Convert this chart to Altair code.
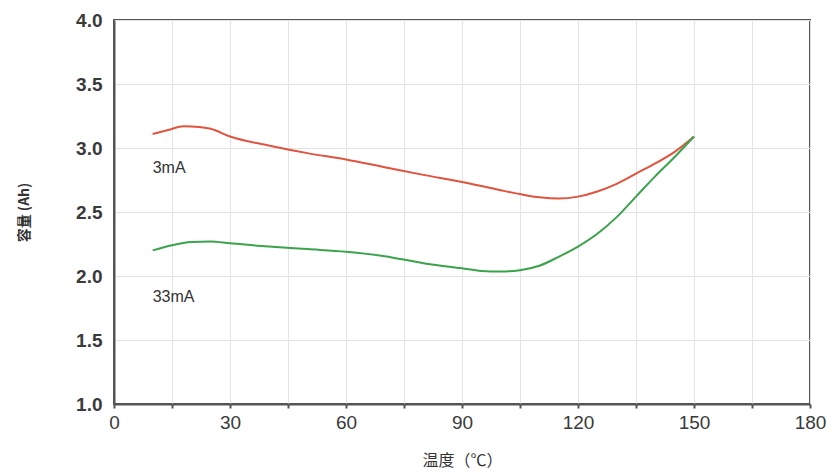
import altair as alt
import pandas as pd

# 3mA series
x_3ma = [10, 14, 18, 22, 25, 30, 40, 50, 60, 70, 80, 90, 100, 105, 110, 115, 120, 125, 130, 135, 140, 145, 150]
y_3ma = [3.11, 3.14, 3.17, 3.165, 3.15, 3.09, 3.02, 2.96, 2.91, 2.85, 2.79, 2.735, 2.67, 2.64, 2.615, 2.605, 2.62, 2.66, 2.72, 2.80, 2.88, 2.97, 3.09]
# 33mA series
x_33ma = [10, 15, 20, 25, 30, 40, 50, 60, 70, 80, 90, 95, 100, 105, 110, 115, 120, 125, 130, 135, 140, 145, 150]
y_33ma = [2.20, 2.24, 2.265, 2.27, 2.255, 2.23, 2.21, 2.19, 2.155, 2.10, 2.06, 2.04, 2.035, 2.045, 2.08, 2.15, 2.23, 2.33, 2.46, 2.62, 2.78, 2.93, 3.09]

series_names = ["3mA", "33mA"]
series_colors = ["#e0533f", "#3aa34b"]

label_text = ["3mA", "33mA"]
label_x = [10, 10]
label_y = [2.84, 1.835]

x_ticks = list(range(0, 181, 15))
y_ticks = [1.0 + 0.25 * i for i in range(13)]

df = pd.concat([
    pd.DataFrame({"t": x_3ma, "c": y_3ma, "s": series_names[0]}),
    pd.DataFrame({"t": x_33ma, "c": y_33ma, "s": series_names[1]}),
])
labels = pd.DataFrame({"t": label_x, "c": label_y, "txt": label_text})

xscale = alt.Scale(domain=[0, 180], nice=False)
yscale = alt.Scale(domain=[1.0, 4.0], nice=False)

xaxis = alt.Axis(
    values=x_ticks,
    labelExpr="datum.value % 30 == 0 ? datum.label : ''",
    title="温度（℃）",
    titleFont="Noto Sans CJK SC",
    titleFontSize=16,
    titleFontWeight="normal",
    titleColor="#333333",
    titlePadding=20,
    labelFont="Liberation Sans",
    labelFontSize=19,
    labelColor="#3a3a3a",
    labelPadding=5,
    labelFlush=False,
    tickSize=4,
    tickColor="#555555",
    tickWidth=2,
    domainColor="#555555",
    domainWidth=2,
    grid=True,
    gridColor="#e4e4e4",
    gridWidth=1,
)
yaxis = alt.Axis(
    values=y_ticks,
    labelExpr="(datum.value * 2) % 1 == 0 ? format(datum.value, '.1f') : ''",
    title="容量 (Ah)",
    titleFont="Noto Sans CJK SC",
    titleFontSize=14,
    titleFontWeight="bold",
    titleColor="#333333",
    titlePadding=44,
    labelFont="Liberation Sans",
    labelFontSize=19,
    labelFontWeight="bold",
    labelColor="#3a3a3a",
    labelPadding=12,
    labelFlush=False,
    tickSize=0,
    domainColor="#555555",
    domainWidth=2,
    grid=True,
    gridColor="#e4e4e4",
    gridWidth=1,
)

lines = alt.Chart(df).mark_line(strokeWidth=2, interpolate="monotone").encode(
    x=alt.X("t:Q", scale=xscale, axis=xaxis),
    y=alt.Y("c:Q", scale=yscale, axis=yaxis),
    color=alt.Color("s:N", scale=alt.Scale(domain=series_names, range=series_colors), legend=None),
)

texts = alt.Chart(labels).mark_text(
    align="left", baseline="middle", font="Liberation Sans", fontSize=16, color="#333333"
).encode(x="t:Q", y="c:Q", text="txt:N")

chart = alt.layer(lines, texts).properties(
    width=696, height=384,
    background="white",
    padding={"left": 106, "top": 12, "right": 20, "bottom": 70},
    autosize=alt.AutoSizeParams(type="none"),
).configure_view(stroke="#555555", strokeWidth=2)

chart.save("out.html", embed_options={"renderer": "svg", "actions": False})
